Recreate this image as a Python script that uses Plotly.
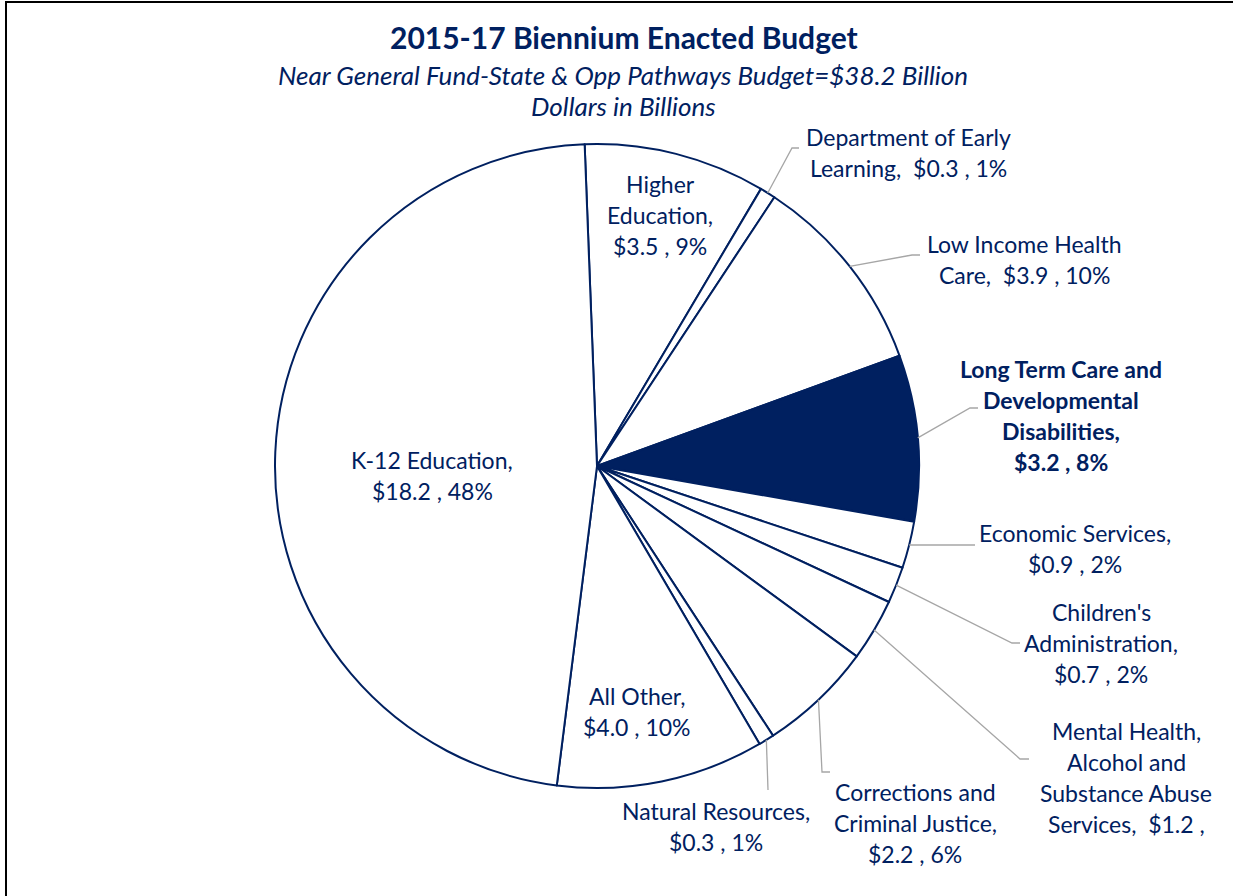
import math
import plotly.graph_objects as go

# budget areas, clockwise from 12 o'clock
areas = ["Higher Education", "Department of Early Learning", "Low Income Health Care",
         "Long Term Care and Developmental Disabilities", "Economic Services",
         "Children's Administration", "Mental Health, Alcohol and Substance Abuse Services",
         "Corrections and Criminal Justice", "Natural Resources", "All Other", "K-12 Education"]
billions = [3.5, 0.3, 3.9, 3.2, 0.9, 0.7, 1.2, 2.2, 0.3, 4.0, 18.2]
percents = [9, 1, 10, 8, 2, 2, 3, 6, 1, 10, 48]

# label text lines, as shown on the chart
label_lines = [
    ["Higher", "Education,", "$3.5 , 9%"],
    ["Department of Early", "Learning,  $0.3 , 1%"],
    ["Low Income Health", "Care,  $3.9 , 10%"],
    ["Long Term Care and", "Developmental", "Disabilities,", "$3.2 , 8%"],
    ["Economic Services,", "$0.9 , 2%"],
    ["Children's", "Administration,", "$0.7 , 2%"],
    ["Mental Health,", "Alcohol and", "Substance Abuse", "Services,  $1.2 ,"],
    ["Corrections and", "Criminal Justice,", "$2.2 , 6%"],
    ["Natural Resources,", "$0.3 , 1%"],
    ["All Other,", "$4.0 , 10%"],
    ["K-12 Education,", "$18.2 , 48%"],
]

NAVY = "#002060"
W, H = 1233, 896
CX, CY, R = 597, 466, 322
ROT = -2.2
FONT = "Lato"

# label placement: centre x, first line y (pixels), leader elbow or None
label_pos = [
    (660, 184, None),
    (908, 137, [(792, 148), (799, 148)]),
    (1024, 244, [(912, 255), (920, 255)]),
    (1061, 369, [(970, 408), (978, 408)]),
    (1075, 533, [(968, 545), (975, 545)]),
    (1101, 612, [(1012, 643), (1020, 643)]),
    (1126, 731, [(1020, 759), (1029, 759)]),
    (915, 792, [(822, 772), (830, 772)]),
    (716, 811, [(768, 790)]),
    (637, 696, None),
    (432, 460, None),
]
LINE_H = 31

fig = go.Figure()
fig.add_trace(go.Pie(
    labels=areas, values=billions, sort=False, direction="clockwise",
    rotation=ROT, textinfo="none", hoverinfo="label+value",
    marker=dict(colors=["white"] * 3 + [NAVY] + ["white"] * 7,
                line=dict(color=NAVY, width=2)),
    domain=dict(x=[(CX - R) / W, (CX + R) / W], y=[1 - (CY + R) / H, 1 - (CY - R) / H]),
    showlegend=False,
))

total = sum(billions)
cum = 0
shapes = []
annotations = []
for i, v in enumerate(billions):
    mid = ROT + (cum + v / 2) / total * 360
    cum += v
    cx_, cy_, elbow = label_pos[i]
    if elbow:
        a = math.radians(mid)
        sx, sy = CX + R * math.sin(a), CY - R * math.cos(a)
        pts = [(sx, sy)] + elbow
        path = "M " + " L ".join(f"{x},{y}" for x, y in pts)
        shapes.append(dict(type="path", path=path, xref="x", yref="y",
                           line=dict(color="#A6A6A6", width=1.3)))
    bold = i == 3
    for j, t in enumerate(label_lines[i]):
        annotations.append(dict(
            x=cx_, y=cy_ + j * LINE_H, xref="x", yref="y", showarrow=False,
            text=f"<b>{t}</b>" if bold else t,
            font=dict(family=FONT, size=23, color=NAVY)))

annotations += [
    dict(x=624, y=37, xref="x", yref="y", showarrow=False,
         text="<b>2015-17 Biennium Enacted Budget</b>",
         font=dict(family=FONT, size=30, color=NAVY)),
    dict(x=623, y=75, xref="x", yref="y", showarrow=False,
         text="<i>Near General Fund-State & Opp Pathways Budget=$38.2 Billion</i>",
         font=dict(family=FONT, size=26, color=NAVY)),
    dict(x=623, y=106, xref="x", yref="y", showarrow=False,
         text="<i>Dollars in Billions</i>",
         font=dict(family=FONT, size=26, color=NAVY)),
]

# outer frame of the chart area
shapes.append(dict(type="rect", xref="x", yref="y", x0=6, y0=2, x1=W + 10, y1=H + 10,
                   line=dict(color="black", width=2)))

fig.update_layout(
    width=W, height=H, margin=dict(l=0, r=0, t=0, b=0),
    paper_bgcolor="white", plot_bgcolor="white",
    xaxis=dict(range=[0, W], visible=False, fixedrange=True),
    yaxis=dict(range=[H, 0], visible=False, fixedrange=True),
    shapes=shapes, annotations=annotations,
)

fig.write_html("out.html", config={"displayModeBar": False},
               post_script="document.body.style.margin='0';")
